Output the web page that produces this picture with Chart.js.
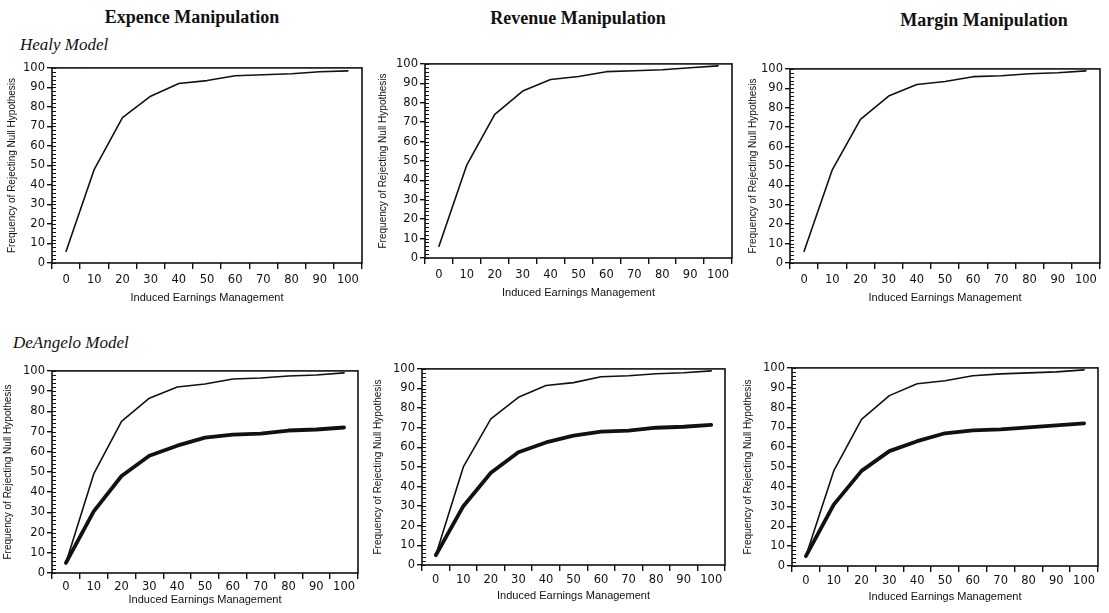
<!DOCTYPE html>
<html><head><meta charset="utf-8">
<script src="https://cdn.jsdelivr.net/npm/chart.js@4.4.1/dist/chart.umd.min.js"></script>
<style>
html,body{margin:0;padding:0;background:#fff;}
body{width:1109px;height:613px;position:relative;overflow:hidden;}
.t{position:absolute;font-family:"Liberation Serif",serif;color:#111;white-space:nowrap;line-height:20px;}
.col{font-weight:bold;font-size:18px;transform:translateX(-50%);}
.row{font-style:italic;font-size:17px;}
canvas{position:absolute;}
</style></head><body>
<div class="t col" style="left:192px;top:7px;">Expence Manipulation</div>
<div class="t col" style="left:578px;top:8px;">Revenue Manipulation</div>
<div class="t col" style="left:984px;top:10px;">Margin Manipulation</div>
<div class="t row" style="left:20px;top:35px;">Healy Model</div>
<div class="t row" style="left:13px;top:333px;">DeAngelo Model</div>
<canvas id="c1"></canvas><canvas id="c2"></canvas><canvas id="c3"></canvas>
<canvas id="c4"></canvas><canvas id="c5"></canvas><canvas id="c6"></canvas>
<script>
// ---- data ----
const xCategories = ['0','10','20','30','40','50','60','70','80','90','100'];
const yTicks = [0,10,20,30,40,50,60,70,80,90,100];
const healyExpense  = [6, 48, 74.5, 85.5, 92, 93.5, 96, 96.5, 97, 98, 98.5];
const healyRevenue  = [6, 48, 74, 86, 92, 93.5, 96, 96.5, 97, 98, 99];
const healyMargin   = [6, 48, 74, 86, 92, 93.5, 96, 96.5, 97.5, 98, 99];
const deAngeloExpenseTop    = [5, 49, 75, 86.5, 92, 93.5, 96, 96.5, 97.5, 98, 99];
const deAngeloExpenseBottom = [5, 30.5, 48, 58, 63, 67, 68.5, 69, 70.5, 71, 72];
const deAngeloRevenueTop    = [5, 50, 74.5, 85.5, 91.5, 93, 96, 96.5, 97.5, 98, 99];
const deAngeloRevenueBottom = [5, 30, 47, 57.5, 62.5, 66, 68, 68.5, 70, 70.5, 71.5];
const deAngeloMarginTop     = [5, 48, 74, 86, 92, 93.5, 96, 97, 97.5, 98, 99];
const deAngeloMarginBottom  = [5, 31, 48, 58, 63, 67, 68.5, 69, 70, 71, 72];

const xTitle = 'Induced Earnings Management';
const yTitle = 'Frequency of Rejecting Null Hypothesis';

// ---- layout (plot rectangles) ----
const panels = [
  {id:'c1', L:52,  T:67,  R:362,  B:263, tx:12,  H:44, pad:4, pb:2, series:[[healyExpense,1.6]]},
  {id:'c2', L:425, T:63,  R:732,  B:258, tx:383, H:44, pad:4, pb:2, series:[[healyRevenue,1.6]]},
  {id:'c3', L:790, T:68,  R:1100, B:263, tx:753, H:44, pad:4, pb:2, series:[[healyMargin,1.6]]},
  {id:'c4', L:52,  T:370, R:358,  B:573, tx:8,   H:34, pad:1, pb:0, series:[[deAngeloExpenseTop,1.6],[deAngeloExpenseBottom,3.8]]},
  {id:'c5', L:422, T:368, R:725,  B:565, tx:378, H:38, pad:2, pb:0, series:[[deAngeloRevenueTop,1.6],[deAngeloRevenueBottom,3.8]]},
  {id:'c6', L:792, T:367, R:1098, B:566, tx:748, H:38, pad:2, pb:0, series:[[deAngeloMarginTop,1.6],[deAngeloMarginBottom,3.8]]}
];

const frame = {
  id:'frame',
  afterDraw(chart){
    const {ctx, chartArea:a} = chart;
    const y = chart.scales.y;
    ctx.save();
    ctx.strokeStyle = '#111';
    ctx.lineWidth = 1.6;
    ctx.strokeRect(a.left, a.top, a.right - a.left, a.bottom - a.top);
    ctx.lineWidth = 1;
    for (let v = y.min; v <= y.max; v += 2) {
      const py = Math.round(y.getPixelForValue(v)) + 0.5;
      ctx.beginPath(); ctx.moveTo(a.left, py); ctx.lineTo(a.left + 4, py); ctx.stroke();
    }
    ctx.restore();
  }
};

panels.forEach(p => {
  const cl = p.tx - 8, ct = p.T - 8;
  const cw = p.R + 4 - cl, ch = p.B + p.H - ct;
  const cv = document.getElementById(p.id);
  cv.width = cw; cv.height = ch;
  cv.style.left = cl + 'px'; cv.style.top = ct + 'px';
  cv.style.width = cw + 'px'; cv.style.height = ch + 'px';
  const yw = p.L - cl;
  new Chart(cv, {
    type: 'line',
    data: {
      labels: xCategories,
      datasets: p.series.map(([d, w]) => ({
        data: d, borderColor: '#111', borderWidth: w, pointRadius: 0,
        tension: 0, fill: false, borderCapStyle: 'round', borderJoinStyle: 'round'
      }))
    },
    options: {
      responsive: false, animation: false, devicePixelRatio: 1,
      layout: {padding: {top: 8, right: 4, left: 0, bottom: 0}},
      plugins: {legend: {display: false}, tooltip: {enabled: false}},
      scales: {
        x: {
          type: 'category', offset: true,
          grid: {offset: true, drawOnChartArea: false, tickLength: 6, color: '#111', lineWidth: 1.4},
          border: {display: false},
          ticks: {color: '#111', font: {family: 'DejaVu Sans', size: 11.5}, padding: p.pad, maxRotation: 0, autoSkip: false},
          title: {display: true, text: xTitle, color: '#111', font: {family: 'Liberation Sans', size: 11}, padding: {top: 0, bottom: p.pb}},
          afterFit(s){ s.height = p.H; }
        },
        y: {
          min: 0, max: 100,
          afterBuildTicks(s){ s.ticks = yTicks.map(v => ({value: v})); },
          grid: {drawOnChartArea: false, tickLength: 5, color: '#111', lineWidth: 1.4},
          border: {display: false},
          ticks: {color: '#111', font: {family: 'DejaVu Sans', size: 11.5}, padding: 2},
          title: {display: true, text: yTitle, color: '#111', font: {family: 'Liberation Sans', size: 10}, padding: {top: 2, bottom: 0}},
          afterFit(s){ s.width = yw; }
        }
      }
    },
    plugins: [frame]
  });
});
</script>
</body></html>
